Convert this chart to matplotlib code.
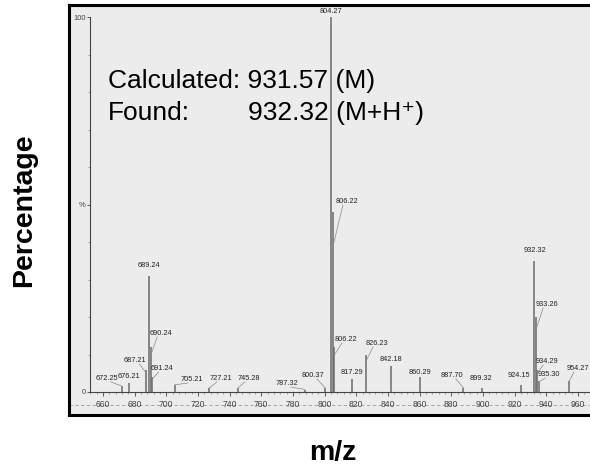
import matplotlib
matplotlib.use("Agg")
import matplotlib.pyplot as plt
import numpy as np

plt.rcParams['font.family'] = ['Liberation Sans', 'DejaVu Sans']

# peaks: m/z, relative intensity (%), printed label
mz = [672.25, 676.21, 687.21, 689.24, 690.24, 691.24, 705.21, 727.21, 745.28,
      787.32, 800.37, 804.27, 805.22, 806.22, 817.29, 826.23, 842.18, 860.29,
      887.70, 899.32, 924.15, 932.32, 933.26, 934.29, 935.30, 954.27]
pct = [1.5, 2.5, 6, 31, 12, 4, 2, 1, 1,
       0.5, 1, 100, 48, 12, 3.5, 10, 7, 4,
       1, 1, 2, 35, 20, 6, 3, 3]
names = ['672.25', '676.21', '687.21', '689.24', '690.24', '691.24', '705.21',
         '727.21', '745.28', '787.32', '800.37', '804.27', '806.22', '806.22',
         '817.29', '826.23', '842.18', '860.29', '887.70', '899.32', '924.15',
         '932.32', '933.26', '934.29', '935.30', '954.27']
# where each label sits (m/z, %)
lab_x = [662.5, 676.4, 680.5, 689.2, 696.8, 697.5, 716.2, 734.5, 752.2,
         776.2, 792.6, 804.3, 814.1, 813.5, 817.3, 833.1, 841.9, 860.2,
         880.4, 898.7, 922.9, 933.0, 940.6, 940.6, 941.9, 960.0]
lab_y = [2.7, 3.2, 7.5, 32.8, 14.7, 5.3, 2.4, 2.7, 2.7,
         1.3, 3.5, 100.6, 49.9, 13.1, 4.3, 12.0, 7.7, 4.3,
         3.5, 2.7, 3.5, 36.8, 22.4, 7.2, 3.7, 5.3]
xticks = list(range(660, 961, 20))

W, H = 590, 469
fig = plt.figure(figsize=(W / 100, H / 100), dpi=100)

# scanned panel with its heavy frame
panel = fig.add_axes([69 / W, 1 - 415 / H, 540 / W, 410 / H])
panel.set_facecolor('#ececec')
panel.set_xticks([]); panel.set_yticks([])
for s in ['left', 'top', 'bottom']:
    panel.spines[s].set_linewidth(2.2)
panel.spines['right'].set_visible(False)
panel.set_xlim(0, 1); panel.set_ylim(0, 1)
panel.axhline(0.025, color='#999999', lw=0.6, ls=(0, (4, 3)))

ax = fig.add_axes([90 / W, 1 - 392 / H, 520 / W, 375 / H])
ax.patch.set_alpha(0)
ax.set_xlim(651.8, 980.3)
ax.set_ylim(0, 100)
for s in ['right', 'top']:
    ax.spines[s].set_visible(False)
for s in ['left', 'bottom']:
    ax.spines[s].set_color('#444444')
    ax.spines[s].set_linewidth(0.8)

ax.vlines(mz, 0, pct, color='#6a6a6a', lw=1.1)
for m, p, n, lx, ly in zip(mz, pct, names, lab_x, lab_y):
    ax.text(lx, ly, n, fontsize=5.3, ha='center', va='bottom', color='#222222')
    if abs(lx - m) > 2:
        ax.plot([m, lx + (2.5 if lx < m else -2.5)], [p * 0.8 + 0.3, ly],
                color='#888888', lw=0.5)

ax.set_xticks(xticks)
ax.set_xticklabels([str(t) for t in xticks], fontsize=6.2, color='#333333')
ax.set_xticks(np.arange(652, 968, 4), minor=True)
ax.tick_params(axis='x', which='major', length=3, width=0.6, pad=3, colors='#444444')
ax.tick_params(axis='x', which='minor', length=1.5, width=0.4, colors='#666666')
ax.set_yticks([0, 50, 100])
ax.set_yticklabels(['0', '%', '100'], fontsize=5.5)
ax.set_yticks(np.arange(0, 101, 10), minor=True)
ax.tick_params(axis='y', which='major', length=2, width=0.6, pad=1, colors='#444444')
ax.tick_params(axis='y', which='minor', length=1.5, width=0.4, colors='#666666')

ax.text(663.2, 81.1, 'Calculated: 931.57 (M)', fontsize=19, va='baseline')
ax.text(663.2, 72.5, 'Found:', fontsize=19, va='baseline')
ax.text(751.6, 72.5, '932.32 (M+H\u207a)', fontsize=19, va='baseline')

fig.text(24 / W, 1 - 210 / H, 'Percentage', rotation=90, fontsize=20.5,
         fontweight='bold', ha='center', va='center')
fig.text(333 / W, 1 - 453 / H, 'm/z', fontsize=20.5, fontweight='bold',
         ha='center', va='center')

fig.savefig('out.png', dpi=100)
